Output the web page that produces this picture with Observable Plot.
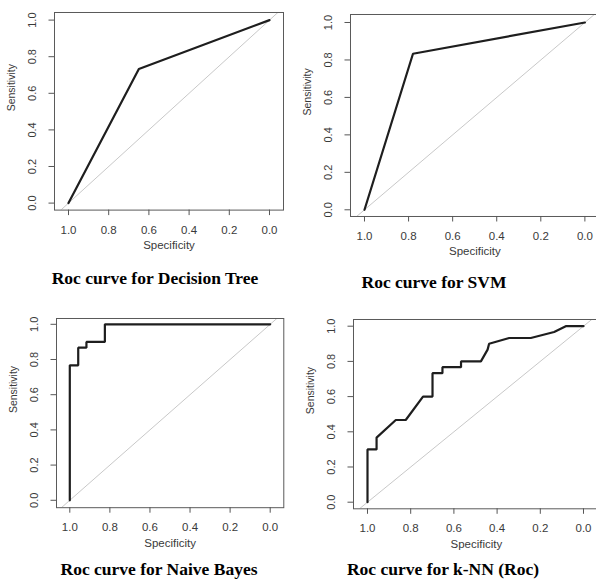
<!DOCTYPE html>
<html><head><meta charset="utf-8">
<script src="https://cdn.jsdelivr.net/npm/d3@7"></script>
<script src="https://cdn.jsdelivr.net/npm/@observablehq/plot@0.6"></script>
<style>
html,body{margin:0;padding:0;background:#fff;overflow:hidden}
#page{position:relative;width:596px;height:581px;overflow:hidden;background:#fff}
.panel{position:absolute}
.caption{position:absolute;font-family:"Liberation Serif","Times New Roman",serif;font-weight:bold;font-size:17.5px;line-height:20px;white-space:nowrap;color:#000;transform:translateX(-50%)}
</style></head><body><div id="page"></div>
<script>
// ---- data ----
const titles = ["Roc curve for Decision Tree", "Roc curve for SVM", "Roc curve for Naive Bayes", "Roc curve for k-NN (Roc)"];
const xLabel = "Specificity";
const yLabel = "Sensitivity";
const xTicks = [1, 0.8, 0.6, 0.4, 0.2, 0];
const yTicks = [0, 0.2, 0.4, 0.6, 0.8, 1];

const dtSpec = [1, 0.65, 0];
const dtSens = [0, 0.733, 1];

const svmSpec = [1, 0.78, 0];
const svmSens = [0, 0.833, 1];

const nbSpec = [1, 1, 0.958, 0.958, 0.917, 0.917, 0.825, 0.825, 0];
const nbSens = [0, 0.767, 0.767, 0.867, 0.867, 0.9, 0.9, 1, 1];

const knnSpec = [1, 1, 0.958, 0.958, 0.869, 0.823, 0.743, 0.699, 0.699, 0.653, 0.653, 0.567, 0.567, 0.475, 0.444, 0.437, 0.344, 0.244, 0.136, 0.082, 0];
const knnSens = [0, 0.3, 0.3, 0.367, 0.467, 0.467, 0.6, 0.6, 0.733, 0.733, 0.767, 0.767, 0.8, 0.8, 0.867, 0.9, 0.933, 0.933, 0.967, 1, 1];

// chance diagonal (sens = 1 - spec), extended and clipped to the frame
const diagSpec = [1.3, -0.3];
const diagSens = [-0.3, 1.3];

const curves = [[dtSpec, dtSens], [svmSpec, svmSens], [nbSpec, nbSens], [knnSpec, knnSens]];

// ---- layout (page pixels): frame box, pixel of spec=1 / spec=0, sens=1 / sens=0, caption centre ----
const layout = [
  {L: 54.3, R: 283.3, T: 11.7, B: 209.3, x1: 68.3, x0: 269.3, y1: 19.3, y0: 202.3, capX: 155, capY: 278},
  {L: 350.3, R: 599, T: 14, B: 216, x1: 364.3, x0: 584.7, y1: 22, y0: 209.3, capX: 434, capY: 282},
  {L: 56, R: 283.3, T: 317.5, B: 506.7, x1: 69.3, x0: 269.7, y1: 323.3, y0: 499.3, capX: 159, capY: 569},
  {L: 352.7, R: 598.5, T: 319, B: 508.3, x1: 366.7, x0: 582.7, y1: 325.7, y0: 501.7, capX: 443, capY: 569}
];

const page = document.getElementById("page");
const ML = 70, MT = 10, MR = 10, MB = 50;

layout.forEach((p, i) => {
  const [spec, sens] = curves[i];
  const rows = spec.map((s, j) => ({spec: s, sens: sens[j]}));
  const diag = diagSpec.map((s, j) => ({spec: s, sens: diagSens[j]}));
  const ppx = p.x0 - p.x1, ppy = p.y0 - p.y1;
  const xDomain = [1 + (p.x1 - p.L) / ppx, -(p.R - p.x0) / ppx];
  const yDomain = [-(p.B - p.y0) / ppy, 1 + (p.y1 - p.T) / ppy];
  const width = p.R - p.L + ML + MR;
  const height = p.B - p.T + MT + MB;
  const chart = Plot.plot({
    width, height,
    marginLeft: ML, marginTop: MT, marginRight: MR, marginBottom: MB,
    x: {domain: xDomain, axis: null},
    y: {domain: yDomain, axis: null},
    style: {fontFamily: "'Liberation Sans', Arial, sans-serif", fontSize: "11px", color: "#3a3a3a", background: "transparent", overflow: "visible"},
    marks: [
      Plot.line(diag, {x: "spec", y: "sens", stroke: "#c8c8c8", strokeWidth: 1, clip: true}),
      Plot.line(rows, {x: "spec", y: "sens", stroke: "#1e1e1e", strokeWidth: 2.2, strokeLinejoin: "miter"}),
      Plot.frame({stroke: "#5a5a5a", strokeWidth: 1}),
      Plot.axisX({ticks: xTicks, tickSize: 5.5, tickPadding: 9.8, tickFormat: d => d.toFixed(1), label: null, stroke: "#555", fontSize: 11.5}),
      Plot.axisY({ticks: yTicks, tickSize: 5.5, tickPadding: 16.5, tickRotate: -90, textAnchor: "middle", lineAnchor: "middle", tickFormat: d => d.toFixed(1), label: null, stroke: "#555", fontSize: 11}),
      Plot.text([xLabel], {frameAnchor: "bottom", dy: 39, text: d => d, fontSize: 11.5, fill: "#3a3a3a"}),
      Plot.text([yLabel], {frameAnchor: "left", dx: -43, rotate: -90, text: d => d, fontSize: 10.5, fill: "#3a3a3a"})
    ]
  });
  chart.classList.add("panel");
  chart.style.left = (p.L - ML) + "px";
  chart.style.top = (p.T - MT) + "px";
  page.appendChild(chart);

  const cap = document.createElement("div");
  cap.className = "caption";
  cap.textContent = titles[i];
  cap.style.left = p.capX + "px";
  cap.style.top = (p.capY - 10) + "px";
  page.appendChild(cap);
});
</script>
</body></html>
